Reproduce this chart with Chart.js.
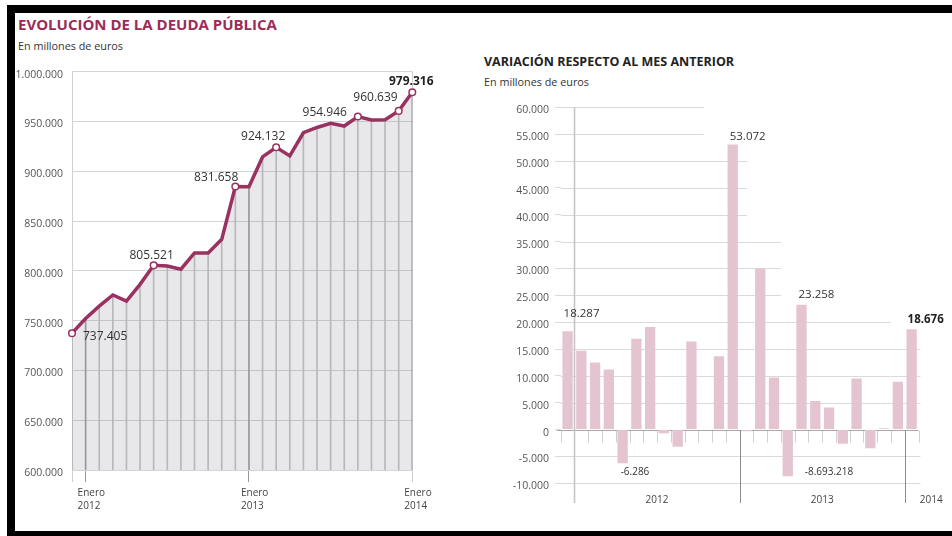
<!DOCTYPE html>
<html>
<head>
<meta charset="utf-8">
<script src="https://cdn.jsdelivr.net/npm/chart.js@4.4.1/dist/chart.umd.min.js"></script>
<style>
  body { margin: 0; width: 952px; height: 536px; overflow: hidden; background: #fff; position: relative; font-family: 'Open Sans', sans-serif; }
  .blk { position: absolute; background: #000; }
  .t { position: absolute; white-space: nowrap; line-height: 1; }
  #debtChart { position: absolute; left: 0; top: 0; }
  #changeChart { position: absolute; left: 470px; top: 0; }
</style>
</head>
<body>
<div class="blk" style="left:7px;top:5px;width:945px;height:8px"></div>
<div class="blk" style="left:7px;top:5px;width:8px;height:531px"></div>
<div class="blk" style="left:7px;top:531px;width:945px;height:5px"></div>

<div class="t" style="left:18px;top:17px;font-size:15px;font-weight:700;color:#9d2b59">EVOLUCIÓN DE LA DEUDA PÚBLICA</div>
<div class="t" style="left:18px;top:41px;font-size:10.8px;color:#333">En millones de euros</div>
<div class="t" style="left:484px;top:56px;font-size:12.5px;font-weight:700;color:#222">VARIACIÓN RESPECTO AL MES ANTERIOR</div>
<div class="t" style="left:484px;top:77px;font-size:10.8px;color:#333">En millones de euros</div>

<canvas id="debtChart" width="470" height="536"></canvas>
<canvas id="changeChart" width="482" height="536"></canvas>

<script>
// Data
const months = ['Dic 2011', 'Ene 2012', 'Feb 2012', 'Mar 2012', 'Abr 2012', 'May 2012', 'Jun 2012',
  'Jul 2012', 'Ago 2012', 'Sep 2012', 'Oct 2012', 'Nov 2012', 'Dic 2012', 'Ene 2013', 'Feb 2013',
  'Mar 2013', 'Abr 2013', 'May 2013', 'Jun 2013', 'Jul 2013', 'Ago 2013', 'Sep 2013', 'Oct 2013',
  'Nov 2013', 'Dic 2013', 'Ene 2014'];

// deuda total, millones de euros
const debt = [737405, 752105, 764605, 775805, 769519, 786419, 805521, 804821, 801621, 818021,
  818021, 831658, 884730, 884430, 914430, 924132, 915439, 938697, 943997, 948097, 945437,
  954946, 951476, 951726, 960639, 979316];

// variacion mensual, millones de euros
const monthlyChange = [18287, 14700, 12500, 11200, -6286, 16900, 19102, -700, -3200, 16400, 0,
  13637, 53072, -300, 30002, 9700, -8693, 23258, 5300, 4100, -2660, 9509, -3470, 250, 8913, 18676];

const debtLabelIdx = [0, 6, 12, 15, 21, 24, 25];
const debtLabelText = ['737.405', '805.521', '831.658', '924.132', '954.946', '960.639', '979.316'];

const changeLabelIdx = [0, 4, 12, 16, 17, 25];
const changeLabelText = ['18.287', '-6.286', '53.072', '-8.693.218', '23.258', '18.676'];

const yearLabels = ['2012', '2013', '2014'];

// Styles
const maroon = '#993260';
const debtLabelStyle = [
  { align: 'left', dx: 11, dy: 3 },
  { align: 'center', dx: -2, dy: -10 },
  { align: 'right', dx: 3, dy: -9 },
  { align: 'center', dx: -13, dy: -11 },
  { align: 'right', dx: -11, dy: -4 },
  { align: 'right', dx: -1, dy: -13 },
  { align: 'center', dx: -1, dy: -11, bold: true }
];
const changeLabelStyle = [
  { dx: -4, dy: -18, size: 11.5 },
  { dx: -2, dy: 9, size: 10 },
  { dx: -3, dy: -8, size: 11.5 },
  { dx: 17, dy: -4, size: 10 },
  { dx: -3, dy: -10, size: 11.5 },
  { dx: -4, dy: -10, size: 11.5, bold: true }
];
// where each horizontal gridline of the right chart stops (category position)
const gridEnd = { 60000: 9.9, 55000: 9.9, 50000: 13.05, 45000: 13.05, 40000: 13.05,
  35000: 15.5, 30000: 15.5, 25000: 15.5, 20000: 23.5 };
const yearPos = [{ at: 6.5, dx: 0, align: 'center' }, { at: 18.5, dx: 0, align: 'center' }, { at: 24.5, dx: 15, align: 'left' }];

const fmt = v => String(v).replace(/\B(?=(\d{3})+(?!\d))/g, '.');
const isEnero = i => months[i].startsWith('Ene');

Chart.defaults.font.family = "'Open Sans', sans-serif";
Chart.defaults.color = '#444';

// Left chart labels
const debtLabels = {
  id: 'debtLabels',
  afterDatasetsDraw(chart) {
    const ctx = chart.ctx;
    const meta = chart.getDatasetMeta(0);
    ctx.save();
    debtLabelText.forEach((txt, n) => {
      const p = meta.data[debtLabelIdx[n]];
      const s = debtLabelStyle[n];
      ctx.font = (s.bold ? '700 ' : '') + "12px 'Open Sans'";
      ctx.fillStyle = s.bold ? '#222' : '#333';
      ctx.textAlign = s.align;
      ctx.textBaseline = 'middle';
      ctx.fillText(txt, p.x + s.dx, p.y + s.dy);
    });
    ctx.restore();
  }
};

new Chart(document.getElementById('debtChart'), {
  type: 'line',
  data: {
    labels: months,
    datasets: [{
      data: debt,
      borderColor: maroon,
      borderWidth: 3.5,
      tension: 0,
      fill: 'start',
      backgroundColor: 'rgba(120,120,135,0.17)',
      pointRadius: ctx => debtLabelIdx.includes(ctx.dataIndex) ? 3.3 : 0,
      pointBackgroundColor: '#fff',
      pointBorderColor: maroon,
      pointBorderWidth: 1.5,
      clip: 8,
      order: 0
    }, {
      type: 'bar',
      data: debt,
      barThickness: 1,
      backgroundColor: ctx => isEnero(ctx.dataIndex) ? '#98989c' : '#b8b8bc',
      order: 1
    }]
  },
  options: {
    responsive: false,
    animation: false,
    layout: { padding: { left: 0, top: 71.7, right: 57.7, bottom: 22 } },
    plugins: { legend: { display: false }, tooltip: { enabled: false }, filler: { drawTime: 'beforeDatasetsDraw' } },
    scales: {
      x: {
        offset: false,
        border: { display: false },
        grid: {
          offset: false,
          drawOnChartArea: true,
          drawTicks: true,
          tickLength: 12,
          color: ctx => (ctx.index === 0 || ctx.index === months.length - 1) ? '#d0d0d0' : 'rgba(0,0,0,0)',
          tickColor: ctx => (ctx.index === 0 || ctx.index === months.length - 1) ? '#cfcfcf'
            : (isEnero(ctx.index) ? '#999' : 'rgba(0,0,0,0)')
        },
        ticks: {
          autoSkip: false,
          maxRotation: 0,
          minRotation: 0,
          align: 'start',
          labelOffset: -8,
          padding: 4,
          color: '#444',
          font: { size: 10, lineHeight: 1.35 },
          callback: (v, i) => isEnero(i) ? ['Enero', months[i].slice(4)] : ''
        },
        afterFit: s => { s.height = 44; }
      },
      y: {
        min: 600000,
        max: 1000000,
        border: { display: false },
        grid: { color: '#d4d4d6', drawTicks: false },
        ticks: { stepSize: 50000, padding: 9, labelOffset: 3, color: '#555', font: { size: 10.5 }, callback: v => fmt(v) },
        afterFit: s => { s.width = 72; }
      }
    }
  },
  plugins: [debtLabels]
});

// Right chart decorations
const changeDecor = {
  id: 'changeDecor',
  beforeDatasetsDraw(chart) {
    const { ctx, chartArea: a, scales: { x, y } } = chart;
    const z = Math.round(y.getPixelForValue(0)) + 0.5;
    ctx.save();
    ctx.lineWidth = 1;
    ctx.strokeStyle = '#dadada';
    y.ticks.forEach(t => {
      if (t.value === 0) return;
      const py = Math.round(y.getPixelForValue(t.value)) + 0.5;
      const end = gridEnd[t.value] !== undefined ? x.getPixelForValue(gridEnd[t.value]) : a.right + 2;
      ctx.beginPath(); ctx.moveTo(a.left, py); ctx.lineTo(end, py); ctx.stroke();
    });
    // small ticks under the zero line
    ctx.strokeStyle = '#cfcfcf';
    for (let i = 0; i <= months.length; i++) {
      const b = i - 0.5;
      if (i > 0 && i < months.length && isEnero(i)) continue;
      const px = Math.round(x.getPixelForValue(b)) + 0.5;
      ctx.beginPath(); ctx.moveTo(px, z); ctx.lineTo(px, z + 12); ctx.stroke();
    }
    // zero line
    ctx.strokeStyle = '#a8a8a8';
    ctx.beginPath(); ctx.moveTo(a.left - 4, z); ctx.lineTo(a.right, z); ctx.stroke();
    // year dividers
    months.forEach((m, i) => {
      if (!isEnero(i)) return;
      const px = Math.round(x.getPixelForValue(i - 0.5)) + 0.5;
      ctx.beginPath();
      if (i === 1) {
        ctx.strokeStyle = '#c6c6c6'; ctx.lineWidth = 1.6;
        ctx.moveTo(px, a.top);
      } else {
        ctx.strokeStyle = '#8a8a8a'; ctx.lineWidth = 1;
        ctx.moveTo(px, z);
      }
      ctx.lineTo(px, 503);
      ctx.stroke();
    });
    // year labels
    ctx.fillStyle = '#444';
    ctx.font = "10px 'Open Sans'";
    ctx.textBaseline = 'middle';
    yearLabels.forEach((yl, n) => {
      const p = yearPos[n];
      ctx.textAlign = p.align;
      ctx.fillText(yl, x.getPixelForValue(p.at) + p.dx, 500);
    });
    ctx.restore();
  },
  afterDatasetsDraw(chart) {
    const ctx = chart.ctx;
    const meta = chart.getDatasetMeta(0);
    ctx.save();
    ctx.textAlign = 'left';
    ctx.textBaseline = 'middle';
    changeLabelText.forEach((txt, n) => {
      const i = changeLabelIdx[n];
      const bar = meta.data[i];
      const s = changeLabelStyle[n];
      ctx.font = (s.bold ? '700 ' : '') + s.size + "px 'Open Sans'";
      ctx.fillStyle = s.bold ? '#222' : '#333';
      ctx.fillText(txt, bar.x + s.dx, bar.y + s.dy);
    });
    ctx.restore();
  }
};

new Chart(document.getElementById('changeChart'), {
  type: 'bar',
  data: {
    labels: months,
    datasets: [{
      data: monthlyChange,
      backgroundColor: '#e4c4d1',
      categoryPercentage: 1,
      barPercentage: 0.75
    }]
  },
  options: {
    responsive: false,
    animation: false,
    layout: { padding: { left: 0, top: 107.3, right: 33.5, bottom: 52.7 } },
    plugins: { legend: { display: false }, tooltip: { enabled: false } },
    scales: {
      x: { display: false },
      y: {
        min: -10000,
        max: 60000,
        border: { display: false },
        grid: { color: '#dadada', drawOnChartArea: false, drawTicks: true, tickLength: 5.7 },
        ticks: { stepSize: 5000, padding: 6, labelOffset: 3, color: '#555', font: { size: 10.5 }, callback: v => fmt(v) },
        afterFit: s => { s.width = 90.7; }
      }
    }
  },
  plugins: [changeDecor]
});
</script>
</body>
</html>
